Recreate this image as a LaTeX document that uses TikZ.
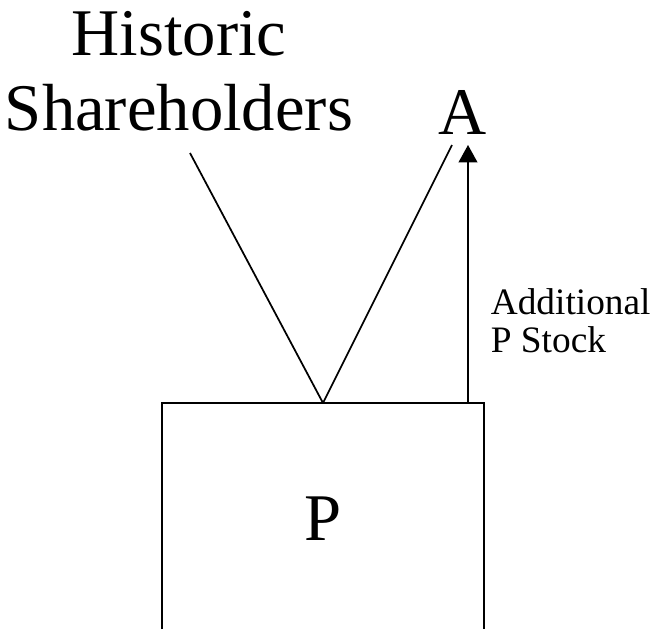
\documentclass[tikz,border=0pt]{standalone}
\usepackage{fontspec}
\setmainfont{Liberation Serif}
\usetikzlibrary{arrows.meta}

\begin{document}
\begin{tikzpicture}[x=0.75pt,y=-0.75pt,line width=1.3pt]
\useasboundingbox (0,0) rectangle (661,629);

\node[anchor=base,align=center,inner sep=0pt,
  font=\fontsize{50}{56}\selectfont] (hist) at (179,130) {Historic\\Shareholders};
\node[anchor=base,inner sep=0pt,font=\fontsize{50}{56}\selectfont] (A) at (463,134) {A};
\node[anchor=base,inner sep=0pt,font=\fontsize{50}{56}\selectfont] (P) at (323,540) {P};
\node[anchor=base west,align=left,inner sep=0pt,
  font=\fontsize{28}{28}\selectfont] (stock) at (490,352) {Additional\\P Stock};

% the box, open at the bottom
\draw[line width=1.6pt] (162,629) -- (162,403) -- (484,403) -- (484,629);

\coordinate (apex) at (323,403);
\coordinate (foot) at (468,403);
\coordinate (histend) at (190,153);
\coordinate (Aend) at (452,145);

\draw (histend) -- (apex);
\draw (Aend) -- (apex);
\draw[-{Triangle[width=14pt,length=13pt]}] (foot) -- (468,145);
\end{tikzpicture}
\end{document}
